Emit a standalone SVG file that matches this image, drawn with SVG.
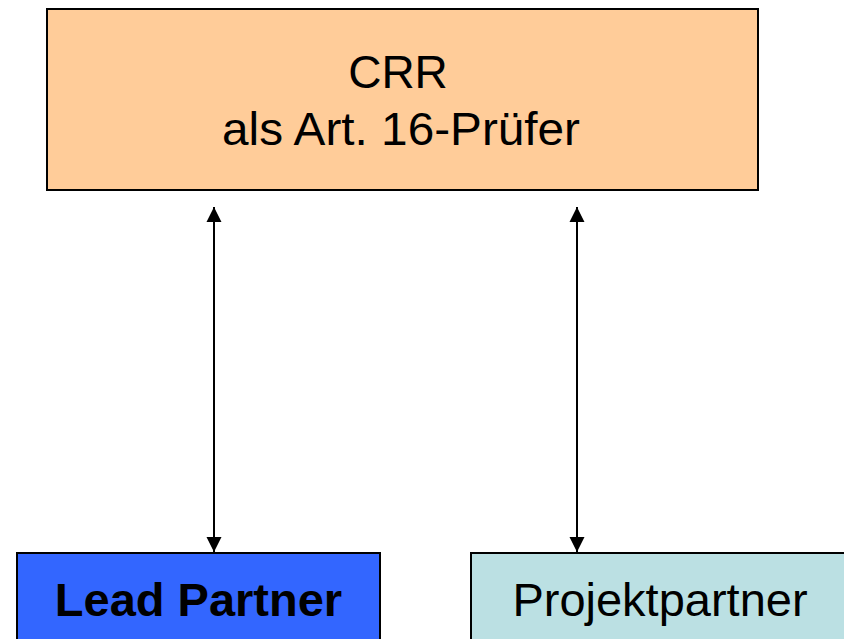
<svg xmlns="http://www.w3.org/2000/svg" width="844" height="639" viewBox="0 0 844 639">
<defs>
<style>
.box{stroke:#000;stroke-width:2}
.t{font-family:"Liberation Sans",Arial,sans-serif;font-size:46px;fill:#000;text-anchor:middle}
.b{font-size:47px}
</style>
</defs>
<rect width="844" height="639" fill="#fff"/>
<g id="crr">
<rect class="box" x="47" y="9" width="711" height="181" fill="#FFCC99"/>
<text class="t" x="398" y="88">CRR</text>
<text class="t" x="401" y="145" textLength="358" lengthAdjust="spacingAndGlyphs">als Art. 16-Prüfer</text>
</g>
<g id="lead">
<rect class="box" x="17" y="553" width="363" height="100" fill="#3366FF"/>
<text class="t b" x="198.5" y="616" font-weight="bold">Lead Partner</text>
</g>
<g id="projekt">
<rect class="box" x="471" y="553" width="390" height="100" fill="#BBE0E3"/>
<text class="t b" x="660" y="616">Projektpartner</text>
</g>
<g id="connectors">
<line x1="214" y1="207" x2="214" y2="552" stroke="#000" stroke-width="2"/>
<path d="M214,207 l-7.5,15 h15 z M214,552 l-7.5,-15 h15 z" fill="#000"/>
<line x1="577" y1="207" x2="577" y2="552" stroke="#000" stroke-width="2"/>
<path d="M577,207 l-7.5,15 h15 z M577,552 l-7.5,-15 h15 z" fill="#000"/>
</g>
</svg>
